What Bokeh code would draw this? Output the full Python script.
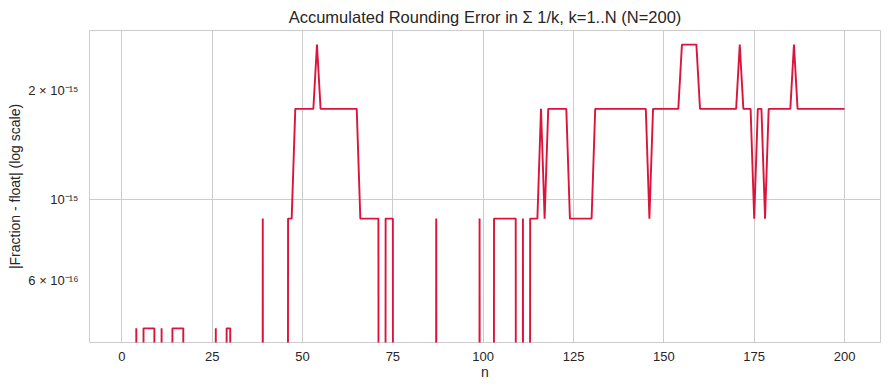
from bokeh.plotting import figure
from bokeh.models import Range1d, FixedTicker, ColumnDataSource
from bokeh.embed import file_html
from bokeh.resources import INLINE

# ---- data ----
TITLE = "Accumulated Rounding Error in Σ 1/k, k=1..N (N=200)"
X_LABEL = "n"
Y_LABEL = "|Fraction - float| (log scale)"

n_values = list(range(1, 201))

# |Fraction - float| for n = 1..200, in units of 1e-16 (0 = exact)
error_e16 = [
    0, 0, 0, 4.44, 0, 4.44, 4.44, 4.44, 4.44, 0,                                      # 1-10
    4.44, 0, 0, 4.44, 4.44, 4.44, 4.44, 0, 0, 0,                                      # 11-20
    0, 0, 0, 0, 0, 4.44, 0, 0, 4.44, 4.44,                                            # 21-30
    0, 0, 0, 0, 0, 0, 0, 0, 8.88, 0,                                                  # 31-40
    0, 0, 0, 0, 0, 8.88, 8.88, 17.76, 17.76, 17.76,                                   # 41-50
    17.76, 17.76, 17.76, 26.65, 17.76, 17.76, 17.76, 17.76, 17.76, 17.76,             # 51-60
    17.76, 17.76, 17.76, 17.76, 17.76, 8.88, 8.88, 8.88, 8.88, 8.88,                  # 61-70
    8.88, 0, 8.88, 8.88, 8.88, 0, 0, 0, 0, 0,                                         # 71-80
    0, 0, 0, 0, 0, 0, 8.88, 0, 0, 0,                                                  # 81-90
    0, 0, 0, 0, 0, 0, 0, 0, 8.88, 0,                                                  # 91-100
    0, 0, 8.88, 8.88, 8.88, 8.88, 8.88, 8.88, 8.88, 0,                                # 101-110
    8.88, 0, 8.88, 8.88, 8.88, 17.76, 8.88, 17.76, 17.76, 17.76,                      # 111-120
    17.76, 17.76, 17.76, 8.88, 8.88, 8.88, 8.88, 8.88, 8.88, 8.88,                    # 121-130
    17.76, 17.76, 17.76, 17.76, 17.76, 17.76, 17.76, 17.76, 17.76, 17.76,             # 131-140
    17.76, 17.76, 17.76, 17.76, 17.76, 8.88, 17.76, 17.76, 17.76, 17.76,              # 141-150
    17.76, 17.76, 17.76, 17.76, 26.65, 26.65, 26.65, 26.65, 26.65, 17.76,             # 151-160
    17.76, 17.76, 17.76, 17.76, 17.76, 17.76, 17.76, 17.76, 17.76, 17.76,             # 161-170
    26.65, 17.76, 17.76, 17.76, 8.88, 17.76, 17.76, 8.88, 17.76, 17.76,               # 171-180
    17.76, 17.76, 17.76, 17.76, 17.76, 26.65, 17.76, 17.76, 17.76, 17.76,             # 181-190
    17.76, 17.76, 17.76, 17.76, 17.76, 17.76, 17.76, 17.76, 17.76, 17.76,             # 191-200
]

x_ticks = [0, 25, 50, 75, 100, 125, 150, 175, 200]
y_ticks = [6e-16, 1e-15, 2e-15]
y_tick_labels = ["6 × 10⁻¹⁶", "10⁻¹⁵", "2 × 10⁻¹⁵"]

# ---- plotting ----
FONT = "Liberation Sans"
TEXT = "#262626"
GRID = "#cccccc"

# exact zeros fall off the bottom of a log axis (as in the original): use a tiny stand-in
y_plot = [v * 1e-16 if v > 0 else 1e-30 for v in error_e16]
src = ColumnDataSource(data=dict(n=n_values, err=y_plot))

p = figure(width=889, height=390, y_axis_type="log",
           output_backend="svg", toolbar_location=None,
           x_range=Range1d(-8.95, 209.95), y_range=Range1d(4.061e-16, 2.913e-15),
           min_border_left=89, min_border_right=9, min_border_top=30, min_border_bottom=48,
           title=TITLE)

p.line("n", "err", source=src, line_color="#DC143C", line_width=1.9)

p.title.text_font = FONT
p.title.text_font_size = "16.5px"
p.title.text_font_style = "normal"
p.title.text_color = TEXT
p.title.align = "center"

p.outline_line_color = GRID
p.outline_line_width = 1
p.background_fill_color = "white"
p.border_fill_color = "white"

p.xaxis.ticker = FixedTicker(ticks=x_ticks)
p.yaxis.ticker = FixedTicker(ticks=y_ticks)
p.yaxis.major_label_overrides = {t: lab for t, lab in zip(y_ticks, y_tick_labels)}

for ax in (p.xaxis, p.yaxis):
    ax.axis_line_color = None
    ax.major_tick_line_color = None
    ax.minor_tick_line_color = None
    ax.major_label_text_font = FONT
    ax.major_label_text_font_size = "13px"
    ax.major_label_text_color = TEXT
    ax.axis_label_text_font = FONT
    ax.axis_label_text_font_size = "14px"
    ax.axis_label_text_font_style = "normal"
    ax.axis_label_text_color = TEXT

p.xaxis.axis_label = X_LABEL
p.yaxis.axis_label = Y_LABEL
p.xaxis.major_label_standoff = 3
p.xaxis.axis_label_standoff = 0
p.yaxis.major_label_standoff = 5
p.yaxis.axis_label_standoff = 2

p.xgrid.ticker = FixedTicker(ticks=x_ticks)
p.ygrid.ticker = FixedTicker(ticks=[1e-15])
for g in (p.xgrid, p.ygrid):
    g.grid_line_color = GRID
    g.grid_line_width = 1
    g.minor_grid_line_color = None

open("out.html", "w").write(file_html(p, INLINE))
